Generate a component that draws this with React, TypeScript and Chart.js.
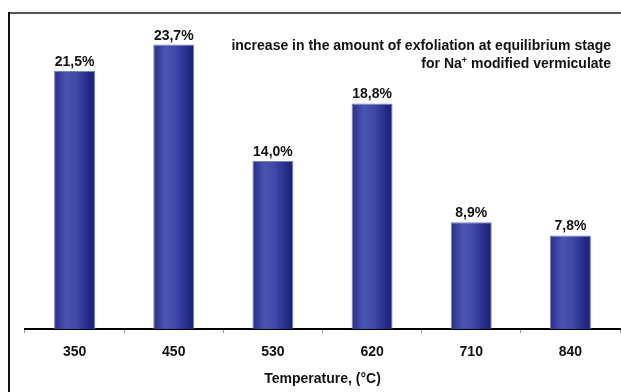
import { useEffect, useRef } from "react";
import { Chart, registerables } from "chart.js";

Chart.register(...registerables);

// Data
const temperatures = ["350", "450", "530", "620", "710", "840"];
const exfoliationIncrease = [21.5, 23.7, 14.0, 18.8, 8.9, 7.8];
const captionLine1 = "increase in the amount of exfoliation at equilibrium stage";
const captionLine2 = ["for Na", "+", " modified vermiculate"];
const axisTitle = "Temperature, (°C)";
const yMax = 25;

const FONT = "'Liberation Sans', Arial, Helvetica, sans-serif";
const BAR_PCT = 0.413;

const formatValue = (v: number) => v.toFixed(1).replace(".", ",") + "%";

// White page with the framing rule on the top and left edges
const framePlugin = {
  id: "frame",
  beforeDraw(chart: any) {
    const { ctx, width, height } = chart;
    ctx.save();
    ctx.fillStyle = "#ffffff";
    ctx.fillRect(0, 0, width, height);
    ctx.lineWidth = 2;
    ctx.strokeStyle = "#555555";
    ctx.beginPath();
    ctx.moveTo(8, 13);
    ctx.lineTo(width, 13);
    ctx.stroke();
    ctx.strokeStyle = "#111111";
    ctx.beginPath();
    ctx.moveTo(9, 12);
    ctx.lineTo(9, height);
    ctx.stroke();
    ctx.restore();
  },
};

// Percent labels above each bar
const valueLabelPlugin = {
  id: "valueLabels",
  afterDatasetsDraw(chart: any) {
    const { ctx } = chart;
    const meta = chart.getDatasetMeta(0);
    ctx.save();
    ctx.fillStyle = "#111111";
    ctx.font = `bold 14px ${FONT}`;
    ctx.textAlign = "center";
    ctx.textBaseline = "alphabetic";
    meta.data.forEach((bar: any, i: number) => {
      ctx.fillText(formatValue(exfoliationIncrease[i]), bar.x, bar.y - 5);
    });
    ctx.restore();
  },
};

// Right-aligned two-line caption in the upper right
const captionPlugin = {
  id: "caption",
  afterDraw(chart: any) {
    const { ctx } = chart;
    const right = 611;
    ctx.save();
    ctx.fillStyle = "#111111";
    ctx.textBaseline = "alphabetic";
    ctx.font = `bold 14px ${FONT}`;
    ctx.textAlign = "right";
    ctx.fillText(captionLine1, right, 50);

    const [pre, sup, post] = captionLine2;
    const normal = `bold 14px ${FONT}`;
    const small = `bold 9px ${FONT}`;
    ctx.font = normal;
    const wPost = ctx.measureText(post).width;
    const wPre = ctx.measureText(pre).width;
    ctx.font = small;
    const wSup = ctx.measureText(sup).width;
    ctx.textAlign = "left";
    let x = right - wPost - wSup - wPre;
    ctx.font = normal;
    ctx.fillText(pre, x, 68);
    x += wPre;
    ctx.font = small;
    ctx.fillText(sup, x, 63);
    x += wSup;
    ctx.font = normal;
    ctx.fillText(post, x, 68);
    ctx.restore();
  },
};

function barGradient(context: any) {
  const chart = context.chart;
  const xScale = chart.scales?.x;
  if (!xScale || !chart.chartArea) return "#3a44a0";
  const center = xScale.getPixelForValue(context.dataIndex);
  const half = ((xScale.width / temperatures.length) * BAR_PCT) / 2;
  const g = chart.ctx.createLinearGradient(center - half, 0, center + half, 0);
  g.addColorStop(0, "#282e8a");
  g.addColorStop(0.3, "#4a55b2");
  g.addColorStop(0.55, "#3e48a8");
  g.addColorStop(0.85, "#242a84");
  g.addColorStop(1, "#1c2070");
  return g;
}

export default function App() {
  const canvasRef = useRef<HTMLCanvasElement | null>(null);

  useEffect(() => {
    const canvas = canvasRef.current;
    if (!canvas) return;
    const chart = new Chart(canvas, {
      type: "bar",
      data: {
        labels: temperatures,
        datasets: [
          {
            data: exfoliationIncrease,
            backgroundColor: barGradient,
            borderColor: "#7880c8",
            borderWidth: 1,
            barPercentage: BAR_PCT,
            categoryPercentage: 1,
          },
        ],
      },
      options: {
        responsive: false,
        animation: false,
        layout: { padding: { left: 25, right: 1, top: 29, bottom: 0 } },
        plugins: {
          legend: { display: false },
          tooltip: { enabled: false },
          title: { display: false },
        },
        scales: {
          x: {
            grid: {
              offset: true,
              drawOnChartArea: false,
              drawTicks: true,
              tickLength: 4,
              color: "#999999",
              lineWidth: 1,
            },
            border: { display: true, color: "#000000", width: 2 },
            ticks: {
              color: "#111111",
              font: { family: FONT, size: 14, weight: "bold" },
              padding: 11,
            },
            title: {
              display: true,
              text: axisTitle,
              color: "#111111",
              font: { family: FONT, size: 14, weight: "bold" },
              padding: { top: 0, bottom: 4 },
            },
            afterFit: (scale: any) => {
              scale.height = 63;
            },
          },
          y: { display: false, min: 0, max: yMax },
        },
      },
      plugins: [framePlugin, valueLabelPlugin, captionPlugin],
    });
    return () => chart.destroy();
  }, []);

  return (
    <div style={{ position: "fixed", left: 0, top: 0, width: 621, height: 392, background: "#fff" }}>
      <canvas ref={canvasRef} width={621} height={392} style={{ display: "block" }} />
    </div>
  );
}
